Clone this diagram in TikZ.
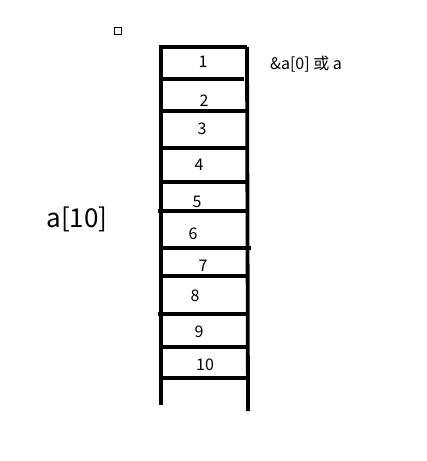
\documentclass[tikz,border=0pt]{standalone}
\usepackage{fontspec}
\setmainfont{Noto Sans CJK SC}
\begin{document}
\begin{tikzpicture}[x=1pt,y=-1pt,
    wall/.style={line width=3.8pt},
    cell/.style={font=\fontsize{16}{18}\selectfont, inner sep=0pt}]
    \useasboundingbox (0,0) rectangle (427,461);

    % small box top left
    \draw[line width=0.8pt] (114,27) rectangle (121,34);

    % the two sides
    \draw[wall] (161,45) -- (161,405);
    \draw[wall] (247,47) -- (248,411);

    % cell borders
    \draw[wall] (160,47) -- (247,47);
    \draw[wall] (160,79) -- (244,79);
    \draw[wall] (160,111) -- (247,111);
    \draw[wall] (160,148) -- (247,148);
    \draw[wall] (160,182) -- (247,182);
    \draw[wall] (158,211) -- (247,211);
    \draw[wall] (160,248) -- (251,248);
    \draw[wall] (160,276) -- (247,276);
    \draw[wall] (158,314) -- (247,314);
    \draw[wall] (160,347) -- (247,347);
    \draw[wall] (160,378) -- (250,378);

    % element numbers
    \node[cell] (e1) at (203,62) {1};
    \node[cell] (e2) at (204,101) {2};
    \node[cell] (e3) at (202,129) {3};
    \node[cell] (e4) at (199,165) {4};
    \node[cell] (e5) at (197,202) {5};
    \node[cell] (e6) at (193,234) {6};
    \node[cell] (e7) at (203,266) {7};
    \node[cell] (e8) at (195,296) {8};
    \node[cell] (e9) at (199,332) {9};
    \node[cell] (e10) at (205,365) {10};

    % labels
    \node[font=\fontsize{16}{18}\selectfont, anchor=west, inner sep=0pt] (addr) at (270,64) {\&a[0] 或 a};
    \node[font=\fontsize{26}{30}\selectfont, inner sep=0pt] (name) at (77,219) {a[10]};

\end{tikzpicture}
\end{document}
